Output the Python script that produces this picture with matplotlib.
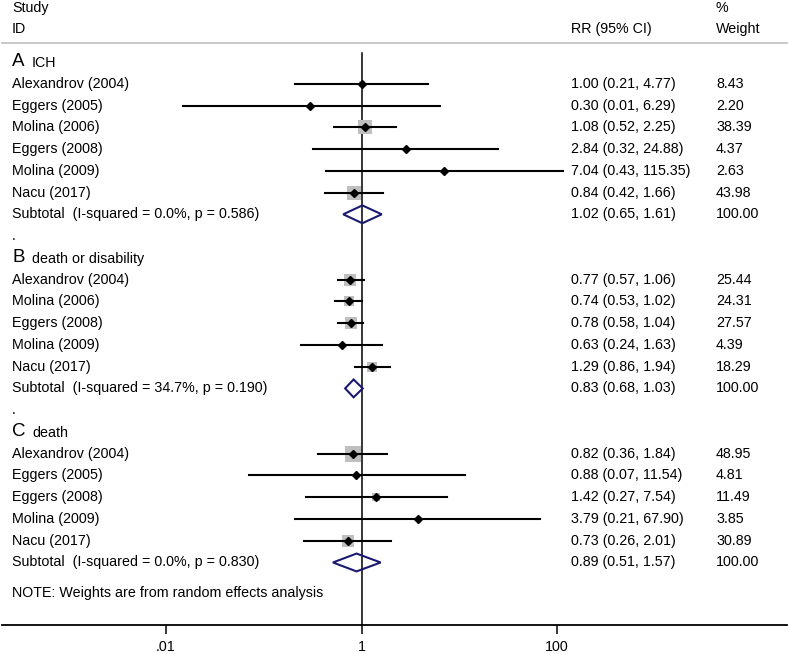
import numpy as np
import matplotlib
matplotlib.use('Agg')
import matplotlib.pyplot as plt
from matplotlib.patches import Polygon
from matplotlib.ticker import NullLocator

plt.rcParams['font.family'] = ['Liberation Sans', 'DejaVu Sans']

# ---- data
group_letters = ['A', 'B', 'C']
group_names = ['ICH', 'death or disability', 'death']

ich_studies = ['Alexandrov (2004)', 'Eggers (2005)', 'Molina (2006)',
               'Eggers (2008)', 'Molina (2009)', 'Nacu (2017)']
ich_rr = [1.00, 0.30, 1.08, 2.84, 7.04, 0.84]
ich_lo = [0.21, 0.0149, 0.52, 0.32, 0.43, 0.42]
ich_hi = [4.77, 6.29, 2.25, 24.88, 115.35, 1.66]
ich_wt = [8.43, 2.20, 38.39, 4.37, 2.63, 43.98]

dd_studies = ['Alexandrov (2004)', 'Molina (2006)', 'Eggers (2008)',
              'Molina (2009)', 'Nacu (2017)']
dd_rr = [0.77, 0.74, 0.78, 0.63, 1.29]
dd_lo = [0.57, 0.53, 0.58, 0.24, 0.86]
dd_hi = [1.06, 1.02, 1.04, 1.63, 1.94]
dd_wt = [25.44, 24.31, 27.57, 4.39, 18.29]

death_studies = ['Alexandrov (2004)', 'Eggers (2005)', 'Eggers (2008)',
                 'Molina (2009)', 'Nacu (2017)']
death_rr = [0.82, 0.88, 1.42, 3.79, 0.73]
death_lo = [0.36, 0.07, 0.27, 0.21, 0.26]
death_hi = [1.84, 11.54, 7.54, 67.90, 2.01]
death_wt = [48.95, 4.81, 11.49, 3.85, 30.89]

sub_rr = [1.02, 0.83, 0.89]
sub_lo = [0.65, 0.68, 0.51]
sub_hi = [1.61, 1.03, 1.57]
sub_i2 = [0.0, 34.7, 0.0]
sub_p = [0.586, 0.190, 0.830]

tick_vals = [0.01, 1, 100]
tick_labels = ['.01', '1', '100']

groups = [
    (ich_studies, ich_rr, ich_lo, ich_hi, ich_wt),
    (dd_studies, dd_rr, dd_lo, dd_hi, dd_wt),
    (death_studies, death_rr, death_lo, death_hi, death_wt),
]

# ---- layout (pixels of a 789x654 canvas)
W, H = 789, 654
AX_BOTTOM = 625
NAVY = '#1a1a73'
GREY_BOX = '#bfbfbf'


def row(px):
    # convert a pixel height into row units (row 2 sits at y=62px)
    return 2 + (px - 62) / 21.76


def xf(px):
    # pixel x -> axes fraction
    return (px - 2) / 785


fig = plt.figure(figsize=(W / 100, H / 100), dpi=100)
ax = fig.add_axes([2 / W, (H - AX_BOTTOM) / H, 785 / W, AX_BOTTOM / H])
ax.set_xscale('log')
ax.set_xlim(10 ** ((2 - 361.5) / 97.7), 10 ** ((787 - 361.5) / 97.7))
ax.set_ylim(row(AX_BOTTOM), row(0))

tr = ax.get_yaxis_transform()
fs = 10.3

# header
ax.text(xf(12), row(8), 'Study', transform=tr, fontsize=fs, va='center')
ax.text(xf(12), row(29), 'ID', transform=tr, fontsize=fs, va='center')
ax.text(xf(571), row(29), 'RR (95% CI)', transform=tr, fontsize=fs, va='center')
ax.text(xf(716), row(8), '%', transform=tr, fontsize=fs, va='center')
ax.text(xf(716), row(29), 'Weight', transform=tr, fontsize=fs, va='center')
ax.axhline(row(43), color='#c4c4c4', lw=1.3, clip_on=False)

# null line
ax.plot([1, 1], [row(53), row(AX_BOTTOM)], color='black', lw=1.1, zorder=1)

r = 2
for g, (names, rr, lo, hi, wt) in enumerate(groups):
    ax.text(xf(12), r, group_letters[g], transform=tr, fontsize=13.5, va='center')
    ax.text(xf(32), r + 0.05, group_names[g], transform=tr, fontsize=fs, va='center')
    r += 1
    for i in range(len(names)):
        ax.scatter(rr[i], r, marker='s', s=2.555 * wt[i], color=GREY_BOX,
                   linewidths=0, zorder=2)
        ax.plot([lo[i], hi[i]], [r, r], color='black', lw=1.5, zorder=3)
        ax.plot(rr[i], r, marker='D', color='black', markersize=4, zorder=4)
        ax.text(xf(12), r, names[i], transform=tr, fontsize=fs, va='center')
        ax.text(xf(571), r, f'{rr[i]:.2f} ({lo[i]:.2f}, {hi[i]:.2f})',
                transform=tr, fontsize=fs, va='center')
        ax.text(xf(716), r, f'{wt[i]:.2f}', transform=tr, fontsize=fs, va='center')
        r += 1
    # subtotal diamond
    d = Polygon([(sub_lo[g], r), (sub_rr[g], r - 0.41), (sub_hi[g], r),
                 (sub_rr[g], r + 0.41)], closed=True, fill=False,
                edgecolor=NAVY, lw=1.5, zorder=5)
    ax.add_patch(d)
    ax.text(xf(12), r, f'Subtotal  (I-squared = {sub_i2[g]:.1f}%, p = {sub_p[g]:.3f})',
            transform=tr, fontsize=fs, va='center')
    ax.text(xf(571), r, f'{sub_rr[g]:.2f} ({sub_lo[g]:.2f}, {sub_hi[g]:.2f})',
            transform=tr, fontsize=fs, va='center')
    ax.text(xf(716), r, '100.00', transform=tr, fontsize=fs, va='center')
    r += 1
    if g < len(groups) - 1:
        ax.text(xf(12), r, '.', transform=tr, fontsize=fs, va='center')
        r += 1

ax.text(xf(12), row(593), 'NOTE: Weights are from random effects analysis',
        transform=tr, fontsize=fs, va='center')

# axis styling
for s in ['left', 'top', 'right']:
    ax.spines[s].set_visible(False)
ax.spines['bottom'].set_linewidth(1.3)
ax.set_yticks([])
ax.set_xticks(tick_vals)
ax.set_xticklabels(tick_labels)
ax.xaxis.set_minor_locator(NullLocator())
ax.tick_params(axis='x', direction='out', length=6.5, width=1.1,
               labelsize=fs, pad=4)

fig.savefig('out.png', dpi=100)
